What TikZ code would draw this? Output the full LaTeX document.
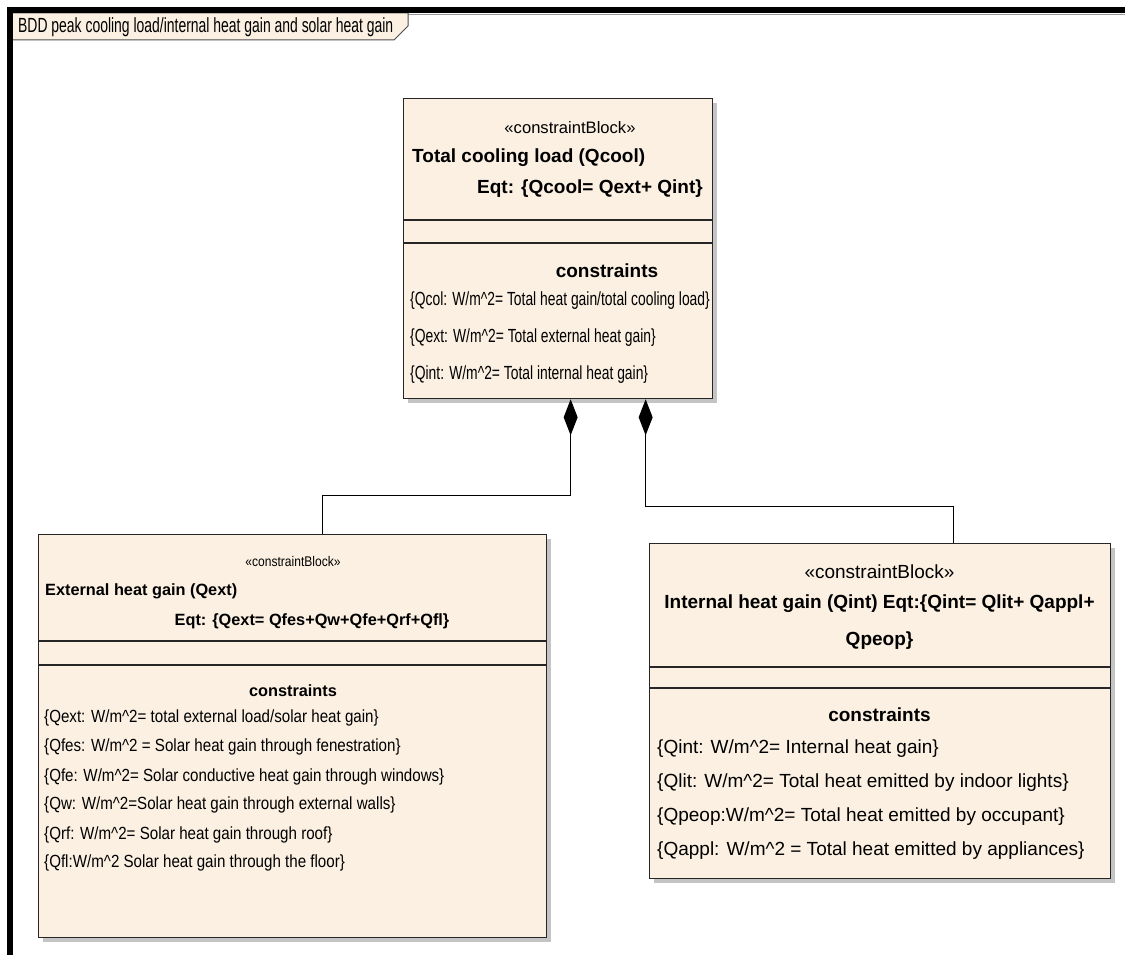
\documentclass[tikz,border=0pt]{standalone}
\usepackage{fontspec}
\setmainfont{Liberation Sans}
\newfontfamily\narrowsans{Liberation Sans}[FakeStretch=0.73]
\newfontfamily\titlesans{Liberation Sans}[FakeStretch=0.68]
\newfontfamily\condsans{Liberation Sans}[FakeStretch=0.86]
\usetikzlibrary{positioning, arrows.meta, shadows, calc}

\definecolor{blockfill}{RGB}{251,240,226}
\definecolor{shadowgray}{RGB}{196,196,196}

\begin{document}
\begin{tikzpicture}[
  x=1pt, y=-1pt,
  block/.style={draw=black!85, line width=1.3pt, fill=blockfill, anchor=north west, inner sep=0pt,
    drop shadow={shadow xshift=4pt, shadow yshift=-4pt, fill=shadowgray, opacity=1}},
  sep/.style={draw=black!85, line width=1.3pt},
  topline/.style={font=\narrowsans\fontsize{19}{23}\selectfont, inner sep=0pt},
  topbold/.style={font=\fontsize{19}{23}\selectfont\bfseries, inner sep=0pt},
  topst/.style={font=\fontsize{16.6}{20}\selectfont, inner sep=0pt},
  extline/.style={font=\condsans\fontsize{17.6}{21}\selectfont, inner sep=0pt},
  extbold/.style={font=\fontsize{16.3}{20}\selectfont\bfseries, inner sep=0pt},
  extst/.style={font=\condsans\fontsize{14}{17}\selectfont, inner sep=0pt},
  intline/.style={font=\fontsize{19}{23}\selectfont, inner sep=0pt},
  intbold/.style={font=\fontsize{19}{37}\selectfont\bfseries, inner sep=0pt},
  comp/.style={{Diamond[length=36pt, width=14pt]}-, line width=1.2pt}
]
  \useasboundingbox (0,0) rectangle (1125,955);

  % frame and its name tag
  \draw[black!40, line width=1.5pt] (13,14.5) -- (1125,14.5);
  \draw[fill=blockfill, draw=black!70, line width=1pt] (13,13) -- (408,13) -- (408,26) -- (394,40) -- (13,40);
  \node[font=\titlesans\fontsize{20.5}{24}\selectfont, anchor=west, inner sep=0pt] (title) at (18,27)
    {BDD peak cooling load/internal heat gain and solar heat gain};
  \draw[line width=6pt] (10,955) -- (10,10) -- (1125,10);

  % total cooling load
  \node[block, minimum width=309pt, minimum height=300pt] (cool) at (403,98) {};
  \draw[sep] ($(cool.north west)+(0,122)$) -- ($(cool.north east)+(0,122)$);
  \draw[sep] ($(cool.north west)+(0,145)$) -- ($(cool.north east)+(0,145)$);
  \node[topst] (coolst) at (570,128) {«constraintBlock»};
  \node[topbold, anchor=west] (coolname) at (412,158) {Total cooling load (Qcool)};
  \node[topbold] (cooleq) at (590,189) {Eqt: \{Qcool= Qext+ Qint\}};
  \node[topbold] (coolcon) at (607,271) {constraints};
  \node[topline, anchor=west] (coolc1) at (410,301) {\{Qcol: W/m\textasciicircum2= Total heat gain/total cooling load\}};
  \node[topline, anchor=west] (coolc2) at (410,338) {\{Qext: W/m\textasciicircum2= Total external heat gain\}};
  \node[topline, anchor=west] (coolc3) at (410,375) {\{Qint: W/m\textasciicircum2= Total internal heat gain\}};

  % external heat gain
  \node[block, minimum width=508pt, minimum height=403pt] (ext) at (38,534) {};
  \draw[sep] ($(ext.north west)+(0,107)$) -- ($(ext.north east)+(0,107)$);
  \draw[sep] ($(ext.north west)+(0,131)$) -- ($(ext.north east)+(0,131)$);
  \node[extst] (extst) at (293,561) {«constraintBlock»};
  \node[extbold, anchor=west] (extname) at (45,591) {External heat gain (Qext)};
  \node[extbold] (exteq) at (312,621) {Eqt: \{Qext= Qfes+Qw+Qfe+Qrf+Qfl\}};
  \node[extbold] (extcon) at (293,691) {constraints};
  \node[extline, anchor=west] (extc1) at (44,718) {\{Qext: W/m\textasciicircum2= total external load/solar heat gain\}};
  \node[extline, anchor=west] (extc2) at (44,747) {\{Qfes: W/m\textasciicircum2 = Solar heat gain through fenestration\}};
  \node[extline, anchor=west] (extc3) at (44,777) {\{Qfe: W/m\textasciicircum2= Solar conductive heat gain through windows\}};
  \node[extline, anchor=west] (extc4) at (44,805) {\{Qw: W/m\textasciicircum2=Solar heat gain through external walls\}};
  \node[extline, anchor=west] (extc5) at (44,835) {\{Qrf: W/m\textasciicircum2= Solar heat gain through roof\}};
  \node[extline, anchor=west] (extc6) at (44,863) {\{Qfl:W/m\textasciicircum2 Solar heat gain through the floor\}};

  % internal heat gain
  \node[block, minimum width=461pt, minimum height=335pt] (int) at (649,543) {};
  \draw[sep] ($(int.north west)+(0,124)$) -- ($(int.north east)+(0,124)$);
  \draw[sep] ($(int.north west)+(0,145)$) -- ($(int.north east)+(0,145)$);
  \node[intline] (intst) at (879.5,572) {«constraintBlock»};
  \node[intbold, align=center] (intname) at (879.5,622.5)
    {Internal heat gain (Qint) Eqt:\{Qint= Qlit+ Qappl+\\Qpeop\}};
  \node[intbold] (intcon) at (879.5,715) {constraints};
  \node[intline, anchor=west] (intc1) at (657,749) {\{Qint: W/m\textasciicircum2= Internal heat gain\}};
  \node[intline, anchor=west] (intc2) at (657,783) {\{Qlit: W/m\textasciicircum2= Total heat emitted by indoor lights\}};
  \node[intline, anchor=west] (intc3) at (657,817) {\{Qpeop:W/m\textasciicircum2= Total heat emitted by occupant\}};
  \node[intline, anchor=west] (intc4) at (657,851) {\{Qappl: W/m\textasciicircum2 = Total heat emitted by appliances\}};

  % composition
  \draw[comp] ([xshift=12.5pt]cool.south) -- ++(0,96) -| ([xshift=30pt]ext.north);
  \draw[comp] ([xshift=87.5pt]cool.south) -- ++(0,107) -| ([xshift=73.5pt]int.north);
\end{tikzpicture}
\end{document}
